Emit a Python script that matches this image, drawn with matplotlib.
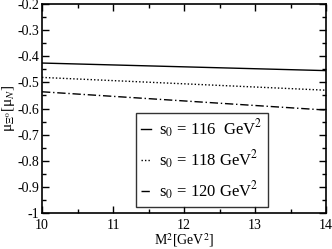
import numpy as np
import matplotlib
matplotlib.use("Agg")
import matplotlib.pyplot as plt
from matplotlib.ticker import MultipleLocator

plt.rcParams['font.family'] = ['Liberation Serif', 'DejaVu Serif']
plt.rcParams['mathtext.fontset'] = 'stix'

# data
m2 = [10, 14]
mu_116 = [-0.426, -0.455]
mu_118 = [-0.481, -0.530]
mu_120 = [-0.536, -0.606]
labels = [r"s$_0$ = 116  GeV$^2$", r"s$_0$ = 118 GeV$^2$", r"s$_0$ = 120 GeV$^2$"]

fig = plt.figure(figsize=(3.32, 2.49), dpi=100)
ax = fig.add_axes([42 / 332, 1 - 213 / 249, 284 / 332, 209 / 249])

ax.plot(m2, mu_116, color='black', lw=1.0, ls='-', label=labels[0])
ax.plot(m2, mu_118, color='black', lw=1.0, ls=(0, (1, 1.5)), label=labels[1])
ax.plot(m2, mu_120, color='black', lw=1.0, ls=(0, (6, 2, 1, 2)), label=labels[2])

ax.set_xlim(10, 14)
ax.set_ylim(-1.0, -0.2)
ax.xaxis.set_major_locator(MultipleLocator(1))
ax.xaxis.set_minor_locator(MultipleLocator(0.5))
ax.yaxis.set_major_locator(MultipleLocator(0.1))
ax.yaxis.set_minor_locator(MultipleLocator(0.05))
ax.set_yticklabels([f"{v:.1f}".replace("-1.0", "-1") for v in ax.get_yticks()])
ax.tick_params(which='both', direction='in', top=True, right=True, labelsize=10, width=1)
ax.tick_params(which='major', length=5)
ax.tick_params(axis='y', pad=2)
ax.tick_params(axis='x', pad=4)
ax.tick_params(which='minor', length=3)
for s in ax.spines.values():
    s.set_linewidth(1.2)

ax.set_xlabel(r"M$^2$[GeV$^2$]", fontsize=10, labelpad=0)
ax.set_ylabel(r"μ$_{\Xi^0}$[μ$_N$]", fontsize=11, labelpad=0)

leg = ax.legend(loc='lower left', bbox_to_anchor=(0.33, 0.03), fontsize=12,
                handlelength=0.6, handletextpad=0.5, labelspacing=0.5,
                frameon=True, fancybox=False, edgecolor='black', borderpad=0.3,
                borderaxespad=0)
leg.get_frame().set_linewidth(1.0)

fig.savefig("out.png", dpi=100)
